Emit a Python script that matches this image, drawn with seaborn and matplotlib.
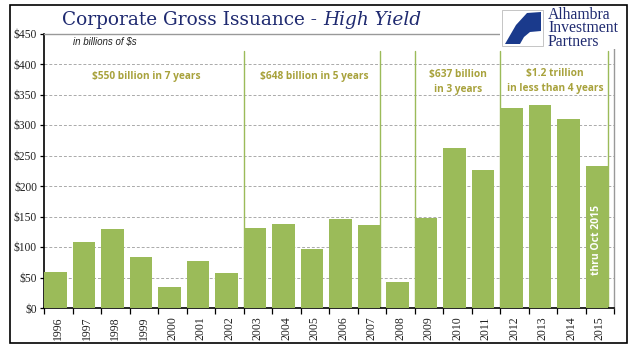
import numpy as np
import pandas as pd
import matplotlib.pyplot as plt
import seaborn as sns
from matplotlib.patches import Rectangle, Polygon

years = [str(y) for y in range(1996, 2016)]
issuance = [59, 108, 129, 84, 34, 77, 57, 131, 138, 97,
            146, 136, 43, 148, 262, 226, 328, 333, 310, 233]
y_ticks = [0, 50, 100, 150, 200, 250, 300, 350, 400, 450]
y_tick_labels = [f"${v}" for v in y_ticks]

# period boundaries: (year, which edge of the bar)
period_lines = [("2003", "left"), ("2007", "right"), ("2009", "left"),
                ("2012", "left"), ("2015", "right")]
period_notes = ["$550 billion in 7 years", "$648 billion in 5 years",
                "$637 billion\nin 3 years", "$1.2 trillion\nin less than 4 years"]
period_note_x = [3.18, 9.1, 14.13, 17.53]
period_note_y = [380, 380, 370, 372]

BAR = "#9BBB59"
NOTE = "#A8A23C"
NAVY = "#1F2A70"
SERIF = ["Liberation Serif", "DejaVu Serif"]

sns.set_theme(style="white")
plt.rcParams["font.family"] = SERIF

df = pd.DataFrame({"Year": years, "Issuance": issuance})

W, H = 641, 358
fig = plt.figure(figsize=(W / 100, H / 100), dpi=100)
ax = fig.add_axes([44 / W, 1 - 308 / H, 570 / W, 274.5 / H])

sns.barplot(data=df, x="Year", y="Issuance", color=BAR, saturation=1,
            width=0.8, linewidth=0, edgecolor="none", ax=ax, zorder=3)

# period boundary lines
for yr, edge in period_lines:
    i = years.index(yr)
    xpos = i - 0.4 if edge == "left" else i + 0.4
    ax.plot([xpos, xpos], [0, 422], color=BAR, lw=1.0, zorder=2)

for txt, tx, ty in zip(period_notes, period_note_x, period_note_y):
    ax.text(tx, ty, txt, color=NOTE, fontsize=7.3, fontweight="bold",
            family=["Open Sans", "DejaVu Sans"], ha="center", va="center",
            linespacing=1.45, zorder=5)

ax.text(years.index("2015"), 111, "thru Oct 2015", color="white",
        fontsize=7.5, fontweight="bold", family=["Open Sans", "DejaVu Sans"],
        rotation=90, ha="center", va="center", zorder=5)

ax.set_xlim(-0.4, 19.6)
ax.set_ylim(0, 450)
ax.set_yticks(y_ticks, labels=y_tick_labels)
ax.set_xticks(np.arange(len(years)) + 0.1, labels=years, rotation=90)
ax.set_xticks(np.arange(len(years) + 1) - 0.4, minor=True)
ax.tick_params(axis="x", which="major", length=0, pad=6, labelsize=8.5,
               labelfontfamily="Liberation Serif", labelcolor="#222222")
ax.tick_params(axis="x", which="minor", length=4, width=0.9, color="black",
               direction="out", bottom=True)
ax.tick_params(axis="y", length=3, width=0.9, color="black", direction="out",
               left=True, labelsize=8.3, pad=2,
               labelfontfamily="Liberation Serif", labelcolor="#222222")
ax.set_xlabel("")
ax.set_ylabel("")

ax.yaxis.grid(True, color="#AAAAAA", linestyle=(0, (3, 2)), lw=0.7)
ax.set_axisbelow(True)
for side in ["left", "bottom"]:
    ax.spines[side].set_color("black")
    ax.spines[side].set_linewidth(1.2)
for side in ["top", "right"]:
    ax.spines[side].set_visible(True)
    ax.spines[side].set_color("#999999")
    ax.spines[side].set_linewidth(1.0)

# outer frame
fig.patches.append(Rectangle((10 / W, 1 - 343 / H), 617 / W, 338 / H,
                             transform=fig.transFigure, fill=False,
                             edgecolor="black", lw=1.2, zorder=10))

# title
t1 = fig.text(62 / W, 1 - 25 / H, "Corporate Gross Issuance - ", color=NAVY,
              fontsize=13.3, family=["DejaVu Serif"], va="baseline")
fig.canvas.draw()
bb = t1.get_window_extent()
fig.text(bb.x1 / W, 1 - 25 / H, "High Yield", color=NAVY, fontsize=13.3,
         family=["DejaVu Serif"], style="italic", va="baseline")

fig.text(73 / W, 1 - 45 / H, "in billions of $s", fontsize=7,
         family=["Liberation Sans", "DejaVu Sans"], style="italic",
         color="#222222", va="baseline")

# logo
fig.patches.append(Rectangle((500 / W, 1 - 49 / H), 125 / W, 43 / H,
                             transform=fig.transFigure, facecolor="white",
                             edgecolor="none", zorder=6))
fig.patches.append(Rectangle((502 / W, 1 - 46 / H), 41 / W, 36 / H,
                             transform=fig.transFigure, facecolor="white",
                             edgecolor="#BBBBBB", lw=0.6, zorder=7))
logo_pts = [(541, 12), (527, 13), (516, 25), (505, 44), (520, 44),
            (524, 37), (530, 32), (541, 31)]
fig.patches.append(Polygon([(px / W, 1 - py / H) for px, py in logo_pts],
                           closed=True, transform=fig.transFigure,
                           facecolor="#1A3A8C", edgecolor="none", zorder=8))
fig.text(548 / W, 1 - 7 / H, "Alhambra\nInvestment\nPartners", color=NAVY,
         fontsize=11.3, family=["Liberation Serif"], va="top", ha="left",
         linespacing=0.78, zorder=9)

fig.savefig("out.png", dpi=100)
